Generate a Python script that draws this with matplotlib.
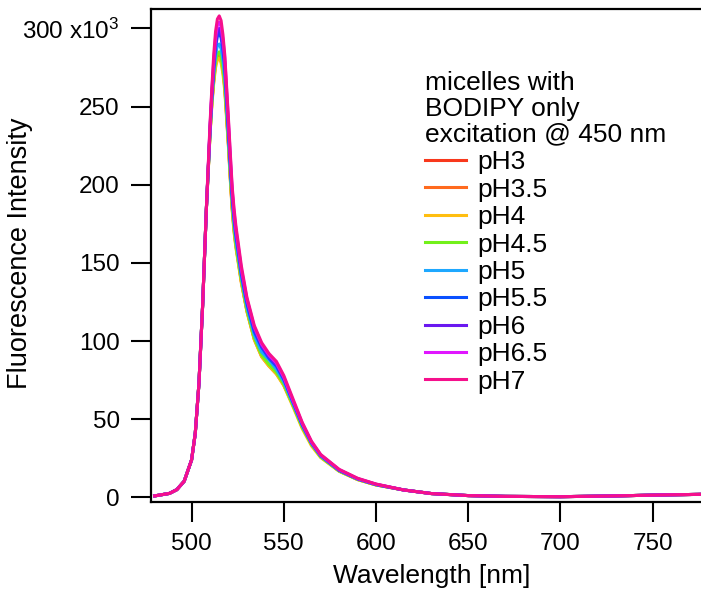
import numpy as np
import matplotlib
matplotlib.use("Agg")
import matplotlib.pyplot as plt

plt.rcParams["font.family"] = ["Liberation Sans", "DejaVu Sans"]
plt.rcParams["mathtext.fontset"] = "custom"
plt.rcParams["mathtext.rm"] = "Liberation Sans"
plt.rcParams["mathtext.default"] = "regular"

# ─── Data (intensity in units of 10^3) ────────────────────────────────────────
WAVELENGTH = [480, 484, 488, 492, 496, 500, 502, 504, 506, 508, 510, 511, 512,
              513, 514, 515, 516, 517, 518, 520, 521, 522, 523, 524, 527, 530,
              534, 538, 542, 546, 550, 555, 560, 565, 570, 580, 590, 600, 615,
              630, 650, 670, 700, 730, 750, 776]

RISE = [1.0, 1.8, 2.6, 5.0, 10.4, 24, 41, 73, 123, 184]
TAIL = [4.8, 2.5, 1.2, 0.7, 0.5, 1.0, 1.5, 2.0]

#              510  511  512  513  514  515  516  517  518  520  521  522  523
#              524  527  530  534  538  542  546  550  555  560  565  570  580
#              590  600
PH3   = RISE + [233, 253, 267, 278, 283, 284, 281, 274, 263, 226, 205, 186, 172,
                162, 138, 120, 102, 91, 85, 80, 72, 59, 45, 34, 26, 17.0,
                11.6, 8.1] + TAIL
PH3_5 = RISE + [233, 252, 266, 277, 282, 283, 280, 273, 262, 225, 204, 185, 171,
                161, 138, 119, 101, 90, 84, 79, 72, 59, 45, 34, 26, 16.9,
                11.5, 8.0] + TAIL
PH4   = RISE + [232, 251, 265, 275, 280, 281, 278, 271, 260, 224, 203, 184, 170,
                160, 137, 119, 101, 90, 84, 79, 71.5, 58, 44, 33, 25.5, 16.7,
                11.4, 8.0] + TAIL
PH4_5 = RISE + [233, 253, 268, 279, 284, 285, 282, 275, 264, 227, 206, 187, 173,
                162, 139, 120, 102, 91, 85, 80, 72.5, 59, 45, 34, 26, 17.0,
                11.6, 8.1] + TAIL
PH5   = RISE + [234, 255, 271, 283, 289, 290, 287, 280, 269, 230, 209, 190, 176,
                165, 141, 122, 104, 93, 88, 82, 74, 60, 46, 34.5, 26.5, 17.2,
                11.8, 8.2] + TAIL
PH5_5 = RISE + [235, 257, 274, 288, 295, 297, 294, 286, 275, 234, 213, 193, 179,
                168, 143, 124, 106, 96, 89, 84, 75.5, 61, 46.5, 35, 26.8, 17.4,
                11.9, 8.3] + TAIL
PH6   = RISE + [236, 258, 276, 290, 298, 300, 297, 289, 278, 237, 215, 195, 181,
                170, 145, 126, 108, 97, 90, 85, 76.5, 61.5, 47, 35.2, 27, 17.6,
                12.0, 8.4] + TAIL
PH6_5 = RISE + [237, 260, 279, 294, 302, 304, 301, 293, 281, 240, 218, 197, 183,
                172, 146, 127, 109, 98, 91, 86, 77, 62, 47.5, 35.5, 27.2, 17.8,
                12.1, 8.5] + TAIL
PH7   = RISE + [239, 262, 283, 298, 306, 308, 305, 296, 283, 242, 220, 199, 185,
                174, 148, 128, 110, 99, 92, 87, 78, 63, 48, 36, 27.5, 18.0,
                12.3, 8.6] + TAIL

SERIES = [PH3, PH3_5, PH4, PH4_5, PH5, PH5_5, PH6, PH6_5, PH7]
LABELS = ["pH3", "pH3.5", "pH4", "pH4.5", "pH5", "pH5.5", "pH6", "pH6.5", "pH7"]
COLORS = ["#F8381C", "#FF6A1E", "#FFBE10", "#72F01A", "#1EA8FF",
          "#0A50FF", "#6A18F0", "#E016FF", "#F5108C"]

YTICKS      = [0, 50, 100, 150, 200, 250, 300]
YTICKLABELS = ["0", "50", "100", "150", "200", "250", "300 x10$^{3}$"]
XTICKS      = [500, 550, 600, 650, 700, 750]

# ─── Plot ─────────────────────────────────────────────────────────────────────
fig = plt.figure(figsize=(7.01, 5.93), dpi=100)
ax = fig.add_axes([151 / 701, 91 / 593, 550 / 701, 493 / 593])

for vals, lab, col in zip(SERIES, LABELS, COLORS):
    ax.plot(WAVELENGTH, vals, color=col, lw=2.2, label=lab)

ax.set_xlim(478.0, 776.2)
ax.set_ylim(-2.9, 312.4)
ax.set_xticks(XTICKS)
ax.set_yticks(YTICKS)
ax.set_yticklabels(YTICKLABELS)

ax.spines["right"].set_visible(False)
for s in ["left", "bottom", "top"]:
    ax.spines[s].set_linewidth(1.6)
ax.tick_params(direction="out", length=14.5, width=1.5, labelsize=17.5, pad=8)

ax.set_xlabel("Wavelength [nm]", fontsize=19)
ax.xaxis.set_label_coords(0.51, -0.125)
ax.set_ylabel("Fluorescence Intensity", fontsize=19.5)
ax.yaxis.set_label_coords(-0.214, 0.505)

leg = ax.legend(title="micelles with\nBODIPY only\nexcitation @ 450 nm",
                title_fontsize=19, fontsize=19, frameon=False,
                alignment="left", loc="upper left",
                bbox_to_anchor=(425 / 701, 1 - 71 / 593),
                bbox_transform=fig.transFigure,
                borderpad=0, borderaxespad=0, handlelength=1.55,
                handletextpad=0.45, labelspacing=0.13)
leg.get_title().set_linespacing(1.1)

plt.savefig("out.png", dpi=100)
